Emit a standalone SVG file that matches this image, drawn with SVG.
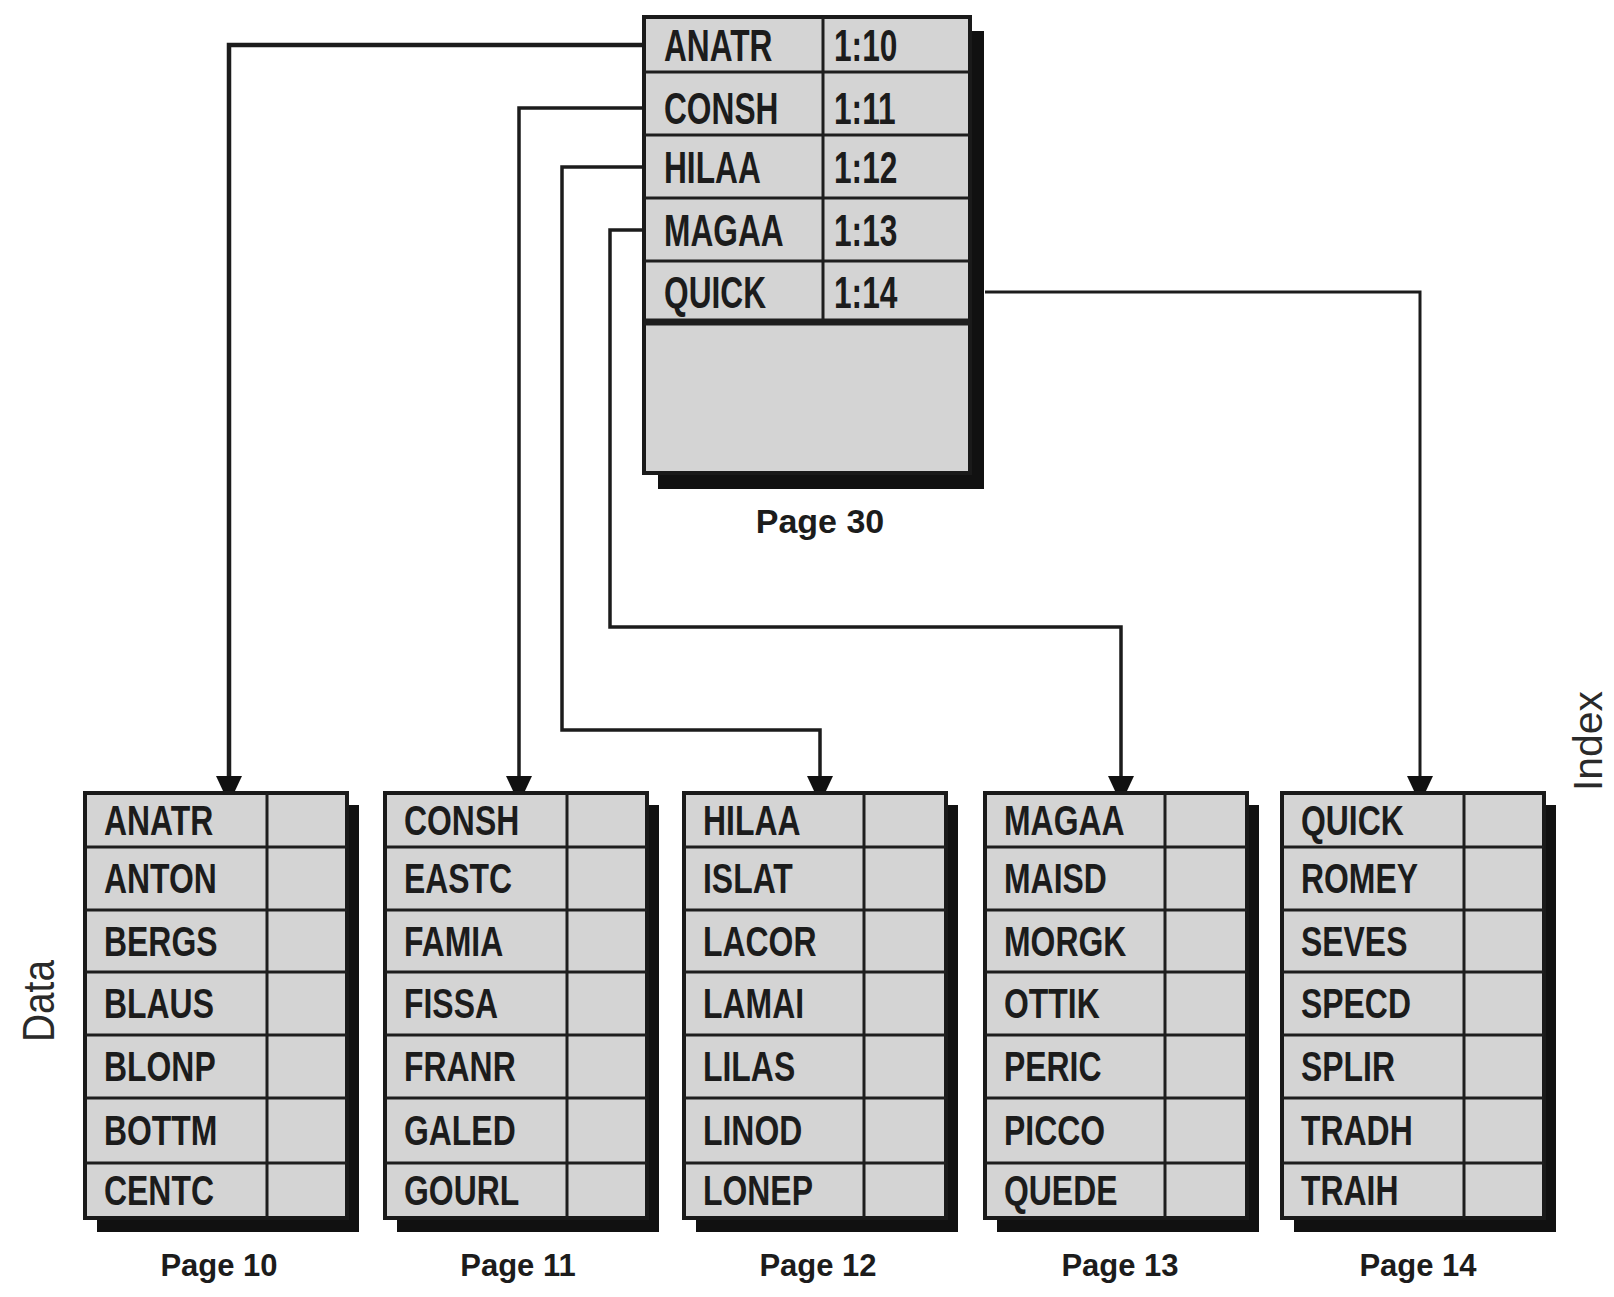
<svg xmlns="http://www.w3.org/2000/svg" width="1614" height="1297" viewBox="0 0 1614 1297">
<style>
.bg{fill:#ffffff}
.cell{fill:#d4d4d4;stroke:#1a1a1a;stroke-width:4}
.shadow{fill:#111111}
.sep{stroke:#1e1e1e;stroke-width:3;fill:none}
.k{font-family:"Liberation Sans",Arial,sans-serif;font-weight:bold;font-size:42px;fill:#1c1c1c}
.ki{font-family:"Liberation Sans",Arial,sans-serif;font-weight:bold;font-size:44px;fill:#1c1c1c}
.lbl{font-family:"Liberation Sans",Arial,sans-serif;font-weight:bold;font-size:31px;fill:#1c1c1c;text-anchor:middle}
.side{font-family:"Liberation Sans",Arial,sans-serif;font-size:40px;fill:#2a2a2a;text-anchor:middle}
.conn{fill:none;stroke:#1c1c1c;stroke-width:3.5;stroke-linejoin:miter}
</style>
<defs>
<marker id="arr" markerUnits="userSpaceOnUse" markerWidth="40" markerHeight="40" refX="0" refY="0" orient="auto" viewBox="-20 -20 40 40">
<path d="M-17,-13 L-17,13 L0,5 L0,-5 Z" fill="#111111"/>
</marker>
</defs>
<rect class="bg" x="0" y="0" width="1614" height="1297"/>

<g id="connectors">
<path class="conn" style="stroke-width:4.5" d="M644,45 H229 V793" marker-end="url(#arr)"/>
<path class="conn" d="M644,108 H519 V793" marker-end="url(#arr)"/>
<path class="conn" d="M644,167 H562 V730 H820 V793" marker-end="url(#arr)"/>
<path class="conn" d="M644,230 H610 V627 H1121 V793" marker-end="url(#arr)"/>
<path class="conn" style="stroke-width:3" d="M985,292 H1420 V793" marker-end="url(#arr)"/>
</g>

<g id="page30">
<rect class="shadow" x="658" y="31" width="326" height="458"/>
<rect class="cell" x="644" y="17" width="326" height="456"/>
<path class="sep" d="M644,72 H970 M644,135 H970 M644,198 H970 M644,261 H970 M823,17 V322"/>
<path class="sep" style="stroke-width:7" d="M644,322 H970"/>
<text class="ki" transform="translate(664,61) scale(0.72,1)">ANATR</text>
<text class="ki" transform="translate(664,124) scale(0.72,1)">CONSH</text>
<text class="ki" transform="translate(664,183) scale(0.72,1)">HILAA</text>
<text class="ki" transform="translate(664,246) scale(0.72,1)">MAGAA</text>
<text class="ki" transform="translate(664,308) scale(0.72,1)">QUICK</text>
<text class="ki" transform="translate(834,61) scale(0.72,1)">1:10</text>
<text class="ki" transform="translate(834,124) scale(0.72,1)">1:11</text>
<text class="ki" transform="translate(834,183) scale(0.72,1)">1:12</text>
<text class="ki" transform="translate(834,246) scale(0.72,1)">1:13</text>
<text class="ki" transform="translate(834,308) scale(0.72,1)">1:14</text>
<text class="lbl" style="font-size:34px" x="820" y="533">Page 30</text>
</g>

<g id="page10">
<rect class="shadow" x="97" y="805" width="262" height="427"/>
<rect class="cell" x="85" y="793" width="262" height="425"/>
<path class="sep" d="M85,847 H347 M85,910 H347 M85,972 H347 M85,1035 H347 M85,1098 H347 M85,1163 H347 M267,793 V1218"/>
<text class="k" transform="translate(104,835) scale(0.76,1)">ANATR</text>
<text class="k" transform="translate(104,893) scale(0.76,1)">ANTON</text>
<text class="k" transform="translate(104,956) scale(0.76,1)">BERGS</text>
<text class="k" transform="translate(104,1018) scale(0.76,1)">BLAUS</text>
<text class="k" transform="translate(104,1081) scale(0.76,1)">BLONP</text>
<text class="k" transform="translate(104,1145) scale(0.76,1)">BOTTM</text>
<text class="k" transform="translate(104,1205) scale(0.76,1)">CENTC</text>
<text class="lbl" x="219" y="1276">Page 10</text>
</g>

<g id="page11">
<rect class="shadow" x="397" y="805" width="262" height="427"/>
<rect class="cell" x="385" y="793" width="262" height="425"/>
<path class="sep" d="M385,847 H647 M385,910 H647 M385,972 H647 M385,1035 H647 M385,1098 H647 M385,1163 H647 M567,793 V1218"/>
<text class="k" transform="translate(404,835) scale(0.76,1)">CONSH</text>
<text class="k" transform="translate(404,893) scale(0.76,1)">EASTC</text>
<text class="k" transform="translate(404,956) scale(0.76,1)">FAMIA</text>
<text class="k" transform="translate(404,1018) scale(0.76,1)">FISSA</text>
<text class="k" transform="translate(404,1081) scale(0.76,1)">FRANR</text>
<text class="k" transform="translate(404,1145) scale(0.76,1)">GALED</text>
<text class="k" transform="translate(404,1205) scale(0.76,1)">GOURL</text>
<text class="lbl" x="518" y="1276">Page 11</text>
</g>

<g id="page12">
<rect class="shadow" x="696" y="805" width="262" height="427"/>
<rect class="cell" x="684" y="793" width="262" height="425"/>
<path class="sep" d="M684,847 H946 M684,910 H946 M684,972 H946 M684,1035 H946 M684,1098 H946 M684,1163 H946 M864,793 V1218"/>
<text class="k" transform="translate(703,835) scale(0.76,1)">HILAA</text>
<text class="k" transform="translate(703,893) scale(0.76,1)">ISLAT</text>
<text class="k" transform="translate(703,956) scale(0.76,1)">LACOR</text>
<text class="k" transform="translate(703,1018) scale(0.76,1)">LAMAI</text>
<text class="k" transform="translate(703,1081) scale(0.76,1)">LILAS</text>
<text class="k" transform="translate(703,1145) scale(0.76,1)">LINOD</text>
<text class="k" transform="translate(703,1205) scale(0.76,1)">LONEP</text>
<text class="lbl" x="818" y="1276">Page 12</text>
</g>

<g id="page13">
<rect class="shadow" x="997" y="805" width="262" height="427"/>
<rect class="cell" x="985" y="793" width="262" height="425"/>
<path class="sep" d="M985,847 H1247 M985,910 H1247 M985,972 H1247 M985,1035 H1247 M985,1098 H1247 M985,1163 H1247 M1165,793 V1218"/>
<text class="k" transform="translate(1004,835) scale(0.76,1)">MAGAA</text>
<text class="k" transform="translate(1004,893) scale(0.76,1)">MAISD</text>
<text class="k" transform="translate(1004,956) scale(0.76,1)">MORGK</text>
<text class="k" transform="translate(1004,1018) scale(0.76,1)">OTTIK</text>
<text class="k" transform="translate(1004,1081) scale(0.76,1)">PERIC</text>
<text class="k" transform="translate(1004,1145) scale(0.76,1)">PICCO</text>
<text class="k" transform="translate(1004,1205) scale(0.76,1)">QUEDE</text>
<text class="lbl" x="1120" y="1276">Page 13</text>
</g>

<g id="page14">
<rect class="shadow" x="1294" y="805" width="262" height="427"/>
<rect class="cell" x="1282" y="793" width="262" height="425"/>
<path class="sep" d="M1282,847 H1544 M1282,910 H1544 M1282,972 H1544 M1282,1035 H1544 M1282,1098 H1544 M1282,1163 H1544 M1464,793 V1218"/>
<text class="k" transform="translate(1301,835) scale(0.76,1)">QUICK</text>
<text class="k" transform="translate(1301,893) scale(0.76,1)">ROMEY</text>
<text class="k" transform="translate(1301,956) scale(0.76,1)">SEVES</text>
<text class="k" transform="translate(1301,1018) scale(0.76,1)">SPECD</text>
<text class="k" transform="translate(1301,1081) scale(0.76,1)">SPLIR</text>
<text class="k" transform="translate(1301,1145) scale(0.76,1)">TRADH</text>
<text class="k" transform="translate(1301,1205) scale(0.76,1)">TRAIH</text>
<text class="lbl" x="1418" y="1276">Page 14</text>
</g>

<g id="side-labels">
<text class="side" style="font-size:44px" transform="translate(54,1001) rotate(-90)" textLength="82" lengthAdjust="spacingAndGlyphs">Data</text>
<text class="side" transform="translate(1602,741) rotate(-90)" textLength="100" lengthAdjust="spacingAndGlyphs">Index</text>
</g>
</svg>
